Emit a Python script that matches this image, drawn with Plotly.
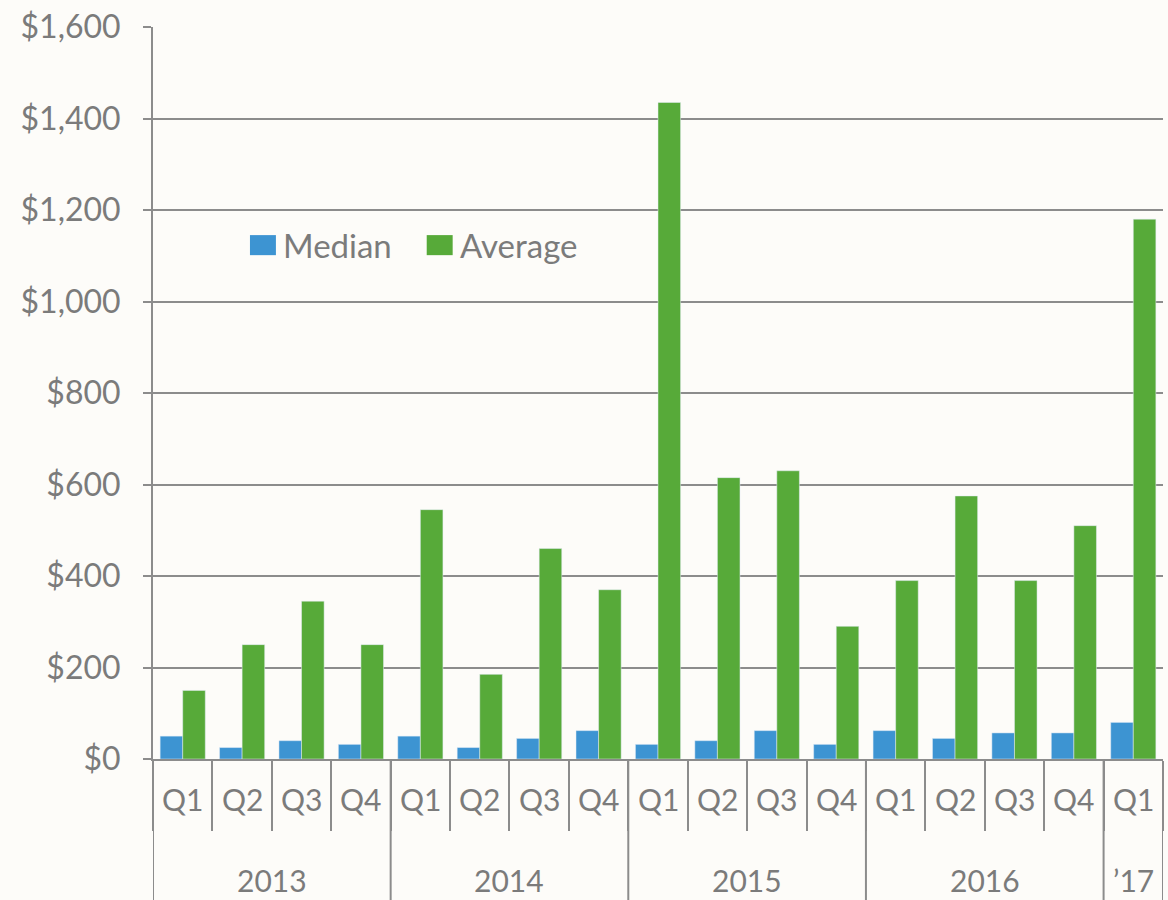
import plotly.graph_objects as go

# Quarterly values (USD)
years = ["2013"] * 4 + ["2014"] * 4 + ["2015"] * 4 + ["2016"] * 4 + ["\u201917"]
quarters = ["Q1", "Q2", "Q3", "Q4"] * 4 + ["Q1"]
median = [50, 25, 40, 32, 50, 25, 45, 62, 32, 40, 62, 32, 62, 45, 57, 57, 80]
average = [150, 250, 345, 250, 545, 185, 460, 370, 1435, 615, 630, 290, 390, 575, 390, 510, 1180]

y_ticks = [0, 200, 400, 600, 800, 1000, 1200, 1400, 1600]
y_tick_labels = ["$0", "$200", "$400", "$600", "$800", "$1,000", "$1,200", "$1,400", "$1,600"]

BLUE = "#3d94d2"
GREEN = "#57aa39"
TEXT = "#7b7b7b"
LINE = "#8c8c8c"
FONT = "Lato"

cats = [f"{y} {q}" for y, q in zip(years, quarters)]

fig = go.Figure()
fig.add_trace(go.Bar(name="Median", x=cats, y=median, marker_color=BLUE, showlegend=False))
fig.add_trace(go.Bar(name="Average", x=cats, y=average, marker_color=GREEN, showlegend=False))

annotations = []
shapes = []

# quarter labels under each category
for i, q in enumerate(quarters):
    annotations.append(dict(x=i, y=-0.055, xref="x", yref="paper", text=q, showarrow=False,
                            font=dict(family=FONT, size=30, color=TEXT), yanchor="middle"))

# year groups: labels and dividers
groups = []
start = 0
for i in range(1, len(years) + 1):
    if i == len(years) or years[i] != years[start]:
        groups.append((years[start], start, i - 1))
        start = i
for name, a, b in groups:
    annotations.append(dict(x=(a + b) / 2, y=-0.165, xref="x", yref="paper", text=name,
                            showarrow=False, font=dict(family=FONT, size=30, color=TEXT),
                            yanchor="middle"))
    shapes.append(dict(type="line", xref="x", yref="paper", x0=a - 0.5, x1=a - 0.5,
                       y0=0, y1=-0.2, line=dict(color=LINE, width=2)))
shapes.append(dict(type="line", xref="x", yref="paper", x0=len(cats) - 0.5, x1=len(cats) - 0.5,
                   y0=0, y1=-0.2, line=dict(color=LINE, width=2)))

# legend: coloured swatches with series names
leg_y = 0.702
for tr, x0, color in [(fig.data[0], 0.096, BLUE), (fig.data[1], 0.271, GREEN)]:
    shapes.append(dict(type="rect", xref="paper", yref="paper", x0=x0, x1=x0 + 0.0257,
                       y0=leg_y - 0.0137, y1=leg_y + 0.0137, fillcolor=color, line=dict(width=0)))
    annotations.append(dict(x=x0 + 0.031, y=leg_y, xref="paper", yref="paper", text=tr.name,
                            showarrow=False, xanchor="left", yanchor="middle",
                            font=dict(family=FONT, size=33, color=TEXT)))

fig.update_layout(
    width=1168, height=900,
    margin=dict(l=153, r=5, t=27, b=141),
    paper_bgcolor="#fdfcf9", plot_bgcolor="#fdfcf9",
    barmode="group", bargap=0.24, bargroupgap=0,
    font=dict(family=FONT, color=TEXT),
    annotations=annotations, shapes=shapes,
)
fig.update_xaxes(
    type="category", showgrid=False, showline=True, linecolor=LINE, linewidth=2,
    ticks="outside", tickson="boundaries", ticklen=70, tickwidth=2, tickcolor=LINE,
    showticklabels=False, range=[-0.5, len(cats) - 0.5],
)
fig.update_yaxes(
    range=[0, 1600], tickvals=y_ticks, ticktext=y_tick_labels,
    showgrid=True, gridcolor=LINE, gridwidth=2, zeroline=False,
    showline=True, linecolor=LINE, linewidth=2,
    ticks="outside", ticklen=8, tickwidth=2, tickcolor=LINE,
    tickfont=dict(family=FONT, size=32, color=TEXT), ticklabelstandoff=16,
)

fig.write_html("out.html")
